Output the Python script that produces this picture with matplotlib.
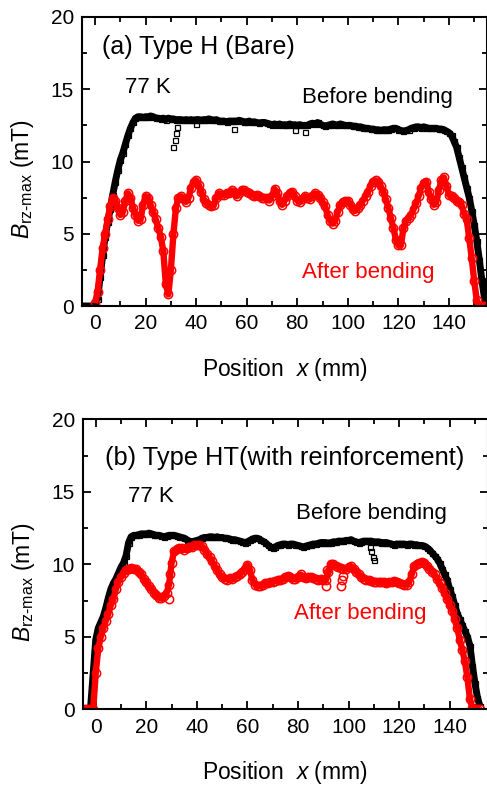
import matplotlib
matplotlib.use("Agg")
import matplotlib.pyplot as plt
from matplotlib.ticker import MultipleLocator

plt.rcParams['font.family'] = ['Liberation Sans', 'DejaVu Sans']
plt.rcParams['mathtext.fontset'] = 'custom'
plt.rcParams['mathtext.rm'] = 'Liberation Sans'
plt.rcParams['mathtext.it'] = 'Liberation Sans:italic'

# positions (mm)
pos_a_before = list(range(-5, 156))
pos_a_after = list(range(0, 156))
pos_b = list(range(-5, 153))

# (a) Type H, before bending  (x = -5 .. 155)
a_before = [0, 0, 0, 0, 0,
            0, 0.5, 2.0, 3.5, 4.8, 5.8, 6.7, 7.7, 8.6, 9.4,                          # 0-9
            10.1, 10.6, 11.2, 11.8, 12.3, 12.7, 13.0, 13.1, 13.1, 13.05,             # 10-19
            13.1, 13.1, 13.15, 13.1, 13.0, 13.0, 12.95, 13.0, 12.9, 13.0,            # 20-29
            12.95, 12.95, 12.9, 12.9, 12.9, 12.85, 12.9, 12.85, 12.9, 12.85,         # 30-39
            12.9, 12.9, 12.85, 12.9, 12.9, 12.95, 12.9, 12.85, 12.9, 12.8,           # 40-49
            12.8, 12.8, 12.75, 12.8, 12.8, 12.8, 12.8, 12.85, 12.8, 12.75,           # 50-59
            12.75, 12.8, 12.7, 12.75, 12.7, 12.65, 12.7, 12.7, 12.65, 12.6,          # 60-69
            12.55, 12.6, 12.55, 12.6, 12.5, 12.55, 12.5, 12.6, 12.5, 12.55,          # 70-79
            12.5, 12.55, 12.5, 12.5, 12.5, 12.6, 12.65, 12.6, 12.7, 12.6,            # 80-89
            12.5, 12.45, 12.5, 12.55, 12.6, 12.55, 12.5, 12.6, 12.55, 12.5,          # 90-99
            12.5, 12.5, 12.45, 12.45, 12.4, 12.4, 12.35, 12.3, 12.3, 12.25,          # 100-109
            12.25, 12.2, 12.2, 12.15, 12.2, 12.2, 12.2, 12.25, 12.3, 12.3,           # 110-119
            12.2, 12.15, 12.1, 12.15, 12.2, 12.3, 12.35, 12.4, 12.4, 12.35,          # 120-129
            12.4, 12.35, 12.3, 12.3, 12.3, 12.3, 12.25, 12.25, 12.2, 12.1,           # 130-139
            12.0, 11.8, 11.4, 11.0, 10.3, 9.6, 8.9, 8.2, 7.5, 6.6,                   # 140-149
            5.6, 4.5, 3.2, 1.8, 0.6, 0]                                              # 150-155
# scattered low points below the band
a_before_dip_x = [31, 31.5, 32, 32.5, 40, 55, 79, 83]
a_before_dip_y = [11.0, 11.5, 12.0, 12.4, 12.6, 12.25, 12.2, 12.05]

# (a) Type H, after bending  (x = 0 .. 155)
a_after = [0.2, 1.0, 2.5, 4.0, 5.0, 6.0, 6.9, 7.5, 7.3, 6.8,
           6.3, 6.5, 7.3, 7.8, 7.5, 6.8, 6.3, 5.9, 6.0, 7.0,
           7.6, 7.5, 7.0, 6.5, 6.0, 5.4, 4.8, 3.8, 1.5, 0.8,
           2.5, 5.0, 6.8, 7.5, 7.6, 7.4, 7.2, 7.5, 8.2, 8.6,
           8.7, 8.4, 7.9, 7.4, 7.1, 7.0, 6.9, 7.0, 7.5, 7.8,
           7.7, 7.7, 7.8, 7.8, 8.0, 7.9, 7.6, 7.8, 8.0, 8.0,
           7.9, 7.8, 7.7, 7.6, 7.7, 7.6, 7.5, 7.5, 7.5, 7.3,
           7.6, 8.1, 7.8, 7.3, 7.0, 7.3, 7.6, 7.8, 7.9, 7.6,
           7.3, 7.2, 7.4, 7.6, 7.5, 7.4, 7.6, 7.8, 7.7, 7.5,
           7.2, 6.9, 6.3, 5.9, 5.7, 5.9, 6.5, 7.0, 7.2, 7.3,
           7.3, 7.0, 6.7, 6.6, 6.8, 7.0, 7.3, 7.6, 7.9, 8.3,
           8.6, 8.7, 8.6, 8.3, 7.9, 7.4, 6.8, 6.1, 5.4, 4.6,
           4.2, 4.2, 5.4, 5.9, 6.1, 6.3, 6.7, 7.1, 7.6, 8.2,
           8.5, 8.6, 7.9, 7.4, 7.0, 7.2, 8.0, 8.7, 8.9, 8.3,
           7.7, 7.6, 7.5, 7.3, 7.2, 7.0, 6.4, 6.0, 4.7, 3.3,
           1.7, 0.4, 0, 0, 0, 0]

# (b) Type HT, before bending  (x = -5 .. 152)
b_before = [0, 0, 0, 0.2, 2.5,
            4.8, 5.6, 6.0, 6.4, 7.0, 7.7, 8.3, 8.7, 9.0, 9.4,
            9.8, 10.1, 10.6, 11.5, 11.9, 12.0, 12.0, 12.05, 12.1, 12.1,
            12.1, 12.15, 12.1, 12.05, 12.0, 12.0, 11.95, 11.9, 11.95, 12.0,
            12.0, 12.0, 11.95, 11.9, 11.85, 11.8, 11.7, 11.6, 11.55, 11.6,
            11.65, 11.7, 11.8, 11.85, 11.85, 11.9, 11.9, 11.85, 11.9, 11.85,
            11.85, 11.8, 11.8, 11.75, 11.7, 11.7, 11.65, 11.6, 11.55, 11.5,
            11.55, 11.65, 11.75, 11.8, 11.8, 11.7, 11.6, 11.5, 11.35, 11.2,
            11.15, 11.2, 11.3, 11.35, 11.4, 11.4, 11.35, 11.4, 11.4, 11.35,
            11.3, 11.25, 11.2, 11.25, 11.3, 11.35, 11.4, 11.4, 11.45, 11.5,
            11.5, 11.5, 11.45, 11.5, 11.55, 11.55, 11.6, 11.6, 11.6, 11.65,
            11.65, 11.7, 11.6, 11.55, 11.5, 11.55, 11.6, 11.6, 11.6, 11.6,
            11.55, 11.55, 11.55, 11.5, 11.5, 11.5, 11.45, 11.4, 11.35, 11.4,
            11.4, 11.4, 11.4, 11.35, 11.4, 11.4, 11.35, 11.35, 11.3, 11.3,
            11.25, 11.15, 11.0, 10.8, 10.6, 10.4, 10.1, 9.7, 9.3, 8.9,
            8.3, 7.8, 7.2, 6.6, 6.2, 5.8, 5.4, 5.0, 4.4, 3.0,
            1.8, 0.8, 0.2]
b_before_dip_x = [108.5, 109, 109.5, 110]
b_before_dip_y = [11.2, 10.9, 10.5, 10.3]

# (b) Type HT, after bending  (x = -5 .. 152)
b_after = [0, 0, 0, 0, 0,
           2.5, 4.2, 5.0, 5.6, 6.1, 6.6, 7.2, 7.6, 8.3, 8.8,
           9.1, 9.4, 9.6, 9.7, 9.75, 9.7, 9.65, 9.5, 9.3, 9.0,
           8.75, 8.5, 8.3, 8.05, 7.85, 7.7, 7.65, 7.8, 8.0, 8.6,
           10.1, 10.9, 11.05, 11.1, 11.1, 11.0, 11.15, 11.2, 11.2, 11.3,
           11.3, 11.35, 11.25, 11.0, 10.7, 10.5, 10.2, 9.9, 9.6, 9.3,
           9.1, 9.0, 8.95, 9.05, 9.0, 9.1, 9.2, 9.3, 9.5, 9.7,
           9.95, 9.6, 8.9, 8.6, 8.5, 8.5, 8.6, 8.7, 8.7, 8.75,
           8.8, 8.85, 8.9, 8.9, 9.0, 9.1, 9.2, 9.1, 9.0, 9.0,
           9.1, 9.3, 9.1, 9.05, 9.1, 9.1, 9.05, 9.0, 8.95, 9.0,
           8.9, 8.9, 9.5, 10.0, 10.0, 9.9, 9.8, 9.75, 9.7, 9.7,
           9.8, 9.85, 9.7, 9.5, 9.3, 9.1, 9.0, 8.95, 8.9, 8.85,
           8.8, 8.8, 8.75, 8.8, 8.75, 8.7, 8.75, 8.8, 8.85, 8.8,
           8.7, 8.65, 8.6, 8.6, 8.8, 9.3, 9.9, 10.05, 10.1, 10.15,
           10.1, 9.9, 9.7, 9.5, 9.3, 9.0, 8.7, 8.4, 8.0, 7.6,
           7.2, 6.8, 6.2, 5.6, 4.8, 4.1, 3.3, 2.2, 0.7, 0.1,
           0, 0, 0]
b_after_dip_x = [29, 29.5, 91, 91.5, 97, 97.5, 98]
b_after_dip_y = [7.6, 9.3, 8.5, 9.6, 8.5, 8.9, 9.2]

W, H = 487, 785
fig = plt.figure(figsize=(W / 100, H / 100), dpi=100)
ax1 = fig.add_axes([82.4 / W, 479 / H, 404.5 / W, 289 / H])
ax2 = fig.add_axes([83.1 / W, 75.7 / H, 404.5 / W, 290 / H])


def style(ax):
    ax.set_xlim(-5, 155)
    ax.set_ylim(0, 20)
    ax.xaxis.set_major_locator(MultipleLocator(20))
    ax.xaxis.set_minor_locator(MultipleLocator(10))
    ax.yaxis.set_major_locator(MultipleLocator(5))
    ax.yaxis.set_minor_locator(MultipleLocator(2.5))
    ax.tick_params(which='both', direction='in', top=True, right=True,
                   labelsize=15, width=1.3, pad=6)
    ax.tick_params(which='major', length=6)
    ax.tick_params(which='minor', length=3.5)
    for s in ax.spines.values():
        s.set_linewidth(1.5)
        s.set_zorder(5)
    ax.set_xlabel(r'Position  $x$ (mm)', fontsize=16.5, labelpad=16)
    ax.set_ylabel(r'$B_{\mathrm{rz\text{-}max}}$ (mT)', fontsize=16.5)
    ax.yaxis.set_label_coords(-0.114, 0.44)


panels = [(ax1, pos_a_before, a_before, a_before_dip_x, a_before_dip_y,
           pos_a_after, a_after, [], []),
          (ax2, pos_b, b_before, b_before_dip_x, b_before_dip_y,
           pos_b, b_after, b_after_dip_x, b_after_dip_y)]

for ax, xb, yb, dxb, dyb, xa, ya, dxa, dya in panels:
    # dense measurement points form a thick band
    ax.plot(xb, yb, '-', color='black', lw=5.0, solid_capstyle='butt')
    ax.plot(xb, yb, 's', ms=3.6, mfc='none', mec='black', mew=0.9)
    ax.plot(dxb, dyb, 's', ms=3.6, mfc='none', mec='black', mew=0.9)
    ax.plot(xa, ya, '-', color='red', lw=4.6, solid_capstyle='butt')
    ax.plot(xa, ya, 'o', ms=6.0, mfc='none', mec='red', mew=1.1)
    ax.plot(dxa, dya, 'o', ms=6.0, mfc='none', mec='red', mew=1.1)
    style(ax)

ax1.text(2.8, 17.9, '(a) Type H (Bare)', fontsize=18, va='center')
ax1.text(12, 15.1, '77 K', fontsize=16, va='center')
ax1.text(81.8, 14.4, 'Before bending', fontsize=16, va='center')
ax1.text(81.8, 2.35, 'After bending', fontsize=16, va='center', color='red')

ax2.text(3.5, 17.3, '(b) Type HT(with reinforcement)', fontsize=18.3, va='center')
ax2.text(12.8, 14.65, '77 K', fontsize=16, va='center')
ax2.text(79.4, 13.5, 'Before bending', fontsize=16, va='center')
ax2.text(78.3, 6.6, 'After bending', fontsize=16, va='center', color='red')

fig.savefig('out.png', dpi=100)
